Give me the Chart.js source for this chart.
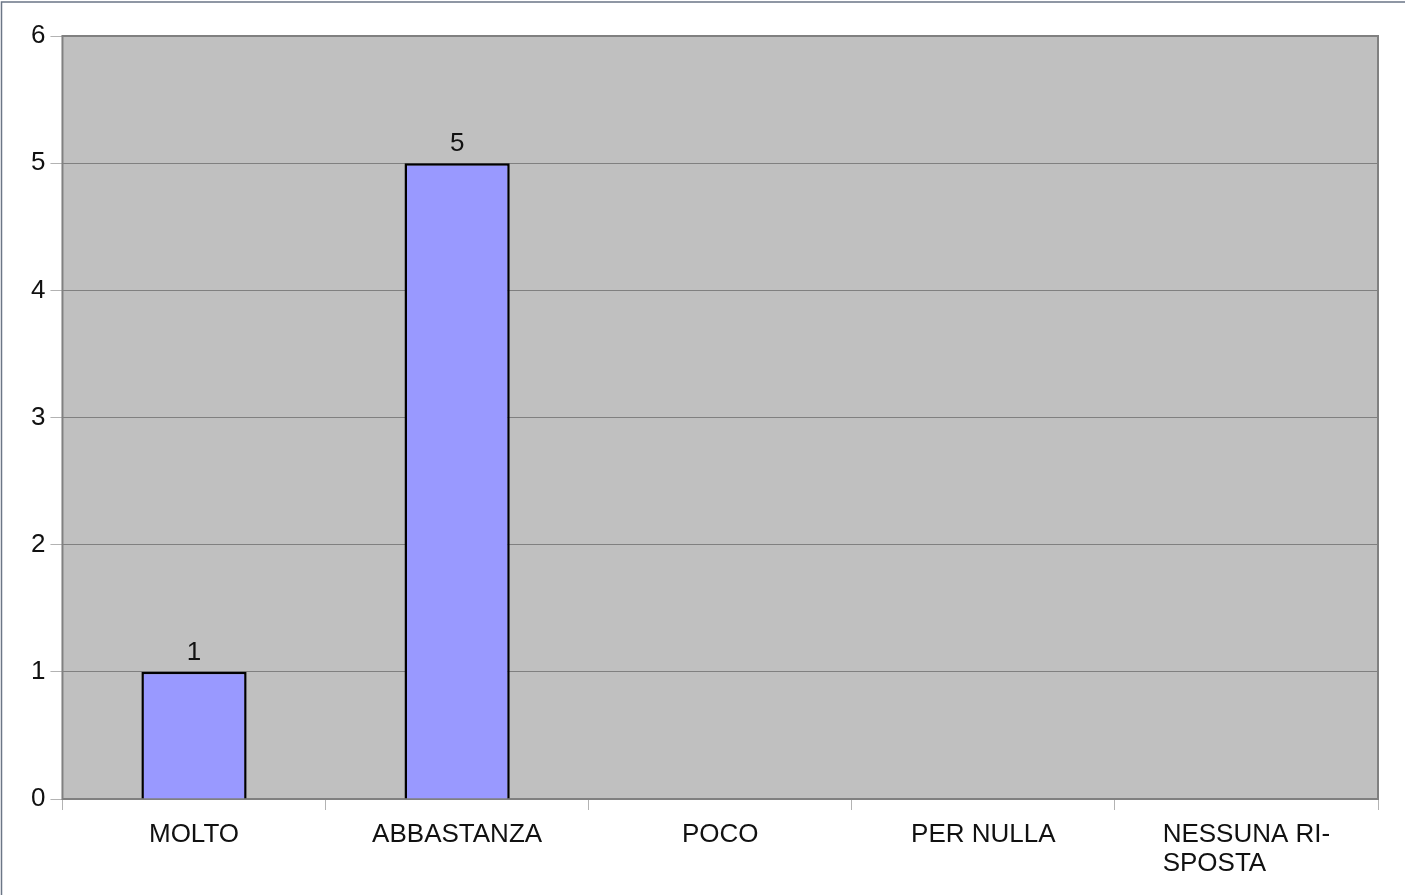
<!DOCTYPE html>
<html>
<head>
<meta charset="utf-8">
<script src="https://cdn.jsdelivr.net/npm/chart.js@4/dist/chart.umd.min.js"></script>
<style>
  html, body { margin: 0; padding: 0; background: #fff; }
  #wrap { width: 1405px; height: 895px; }
</style>
</head>
<body>
<div id="wrap"><canvas id="bar-chart" width="1405" height="895"></canvas></div>
<script>
const categories = ["MOLTO", "ABBASTANZA", "POCO", "PER NULLA", ["NESSUNA RI-", "SPOSTA"]];
const values = [1, 5, 0, 0, 0];
const yTicks = [0, 1, 2, 3, 4, 5, 6];

const FONT = "'Liberation Sans', Arial, sans-serif";
const FSIZE = 26;

// grey plot background, border, value labels, left-aligned category labels
const decor = {
	id: "decor",
	beforeDatasetsDraw(chart) {
		const { ctx, chartArea: a } = chart;
		ctx.save();
		ctx.strokeStyle = "#808080";
		ctx.lineWidth = 2;
		ctx.strokeRect(a.left, a.top, a.right - a.left, a.bottom - a.top);
		ctx.restore();
	},
	beforeDraw(chart) {
		const { ctx, chartArea: a } = chart;
		ctx.save();
		ctx.fillStyle = "#c0c0c0";
		ctx.fillRect(a.left, a.top, a.right - a.left, a.bottom - a.top);
		// outer frame (top and left only visible)
		ctx.strokeStyle = "#6b7686";
		ctx.lineWidth = 1.5;
		ctx.beginPath();
		ctx.moveTo(1.5, chart.height);
		ctx.lineTo(1.5, 2);
		ctx.lineTo(chart.width, 2);
		ctx.stroke();
		ctx.restore();
	},
	afterDraw(chart) {
		const { ctx } = chart;
		const meta = chart.getDatasetMeta(0);
		const xs = chart.scales.x;
		ctx.save();
		ctx.fillStyle = "#111111";
		ctx.font = FSIZE + "px " + FONT;
		ctx.textAlign = "center";
		ctx.textBaseline = "alphabetic";
		meta.data.forEach((bar, i) => {
			if (values[i] > 0) ctx.fillText(String(values[i]), bar.x, bar.y - 12);
		});
		ctx.textAlign = "left";
		categories.forEach((lab, i) => {
			const lines = Array.isArray(lab) ? lab : [lab];
			const w = Math.max(...lines.map(l => ctx.measureText(l).width));
			const cx = xs.getPixelForValue(i);
			lines.forEach((l, j) => {
				ctx.fillText(l, cx - w / 2, chart.chartArea.bottom + 43 + j * 29);
			});
		});
		ctx.restore();
	}
};

new Chart(document.getElementById("bar-chart"), {
	type: "bar",
	data: {
		labels: categories,
		datasets: [{
			data: values,
			backgroundColor: "#9999ff",
			borderColor: "#000000",
			borderWidth: 2.5,
			barPercentage: 0.4,
			categoryPercentage: 1.0
		}]
	},
	options: {
		responsive: false,
		animation: false,
		layout: { padding: { left: 26, right: 27, top: 36, bottom: 85 } },
		plugins: { legend: { display: false }, tooltip: { enabled: false } },
		scales: {
			x: {
				ticks: { display: false },
				grid: {
					offset: true,
					drawOnChartArea: false,
					drawTicks: true,
					tickLength: 11,
					tickColor: "#b3b3b3"
				},
				border: { display: false }
			},
			y: {
				min: yTicks[0],
				max: yTicks[yTicks.length - 1],
				afterBuildTicks(scale) {
					scale.ticks = yTicks.map(v => ({ value: v }));
				},
				ticks: {
					color: "#111111",
					font: { size: FSIZE, family: FONT },
					padding: 5
				},
				grid: {
					color: "#808080",
					tickColor: "#b3b3b3",
					tickLength: 12
				},
				border: { display: false }
			}
		}
	},
	plugins: [decor]
});
</script>
</body>
</html>
